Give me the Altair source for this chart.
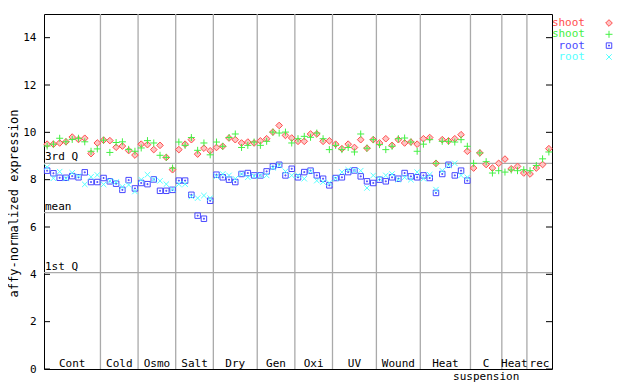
import altair as alt
import pandas as pd

# ---------------- data ----------------
groups = ["Cont", "Cold", "Osmo", "Salt", "Dry", "Gen", "Oxi", "UV", "Wound", "Heat", "C", "Heat", "rec"]
group_sizes = [9, 6, 6, 6, 7, 6, 6, 7, 7, 8, 5, 4, 4]
sub_label_group = 10
sub_label = "suspension"

shoot_red = [
    9.50, 9.50, 9.55, 9.60, 9.80, 9.70, 9.75, 9.10, 9.55,
    9.67, 9.65, 9.37, 9.42, 9.23, 9.04,
    9.50, 9.48, 9.27, 9.45, 8.94, 8.42,
    9.27, 9.50, 9.69, 9.08, 9.33, 9.22,
    9.36, 9.41, 9.76, 9.69, 9.55, 9.59, 9.55,
    9.64, 9.73, 10.01, 10.29, 9.87, 9.76,
    9.62, 9.62, 9.93, 9.93, 9.62, 9.64,
    9.50, 9.31, 9.50, 9.36, 9.69, 9.33, 9.69,
    9.55, 9.73, 9.45, 9.69, 9.55, 9.59, 9.50,
    9.73, 9.78, 8.69, 9.69, 9.64, 9.73, 9.90, 9.20,
    8.49, 9.13, 8.64, 8.49, 8.69,
    8.87, 8.46, 8.56, 8.28,
    8.24, 8.49, 8.64, 9.31,
]
shoot_green = [
    9.42, 9.50, 9.75, 9.60, 9.70, 9.75, 9.60, 9.20, 9.30,
    9.67, 9.15, 9.57, 9.60, 9.28, 9.20,
    9.34, 9.65, 9.55, 9.03, 8.94, 8.49,
    9.59, 9.45, 9.78, 9.24, 9.55, 9.05,
    9.59, 9.41, 9.78, 9.93, 9.36, 9.45, 9.59,
    9.45, 9.62, 10.01, 9.97, 10.01, 9.55,
    9.73, 9.83, 9.79, 9.97, 9.73, 9.27,
    9.45, 9.27, 9.36, 9.17, 9.93, 9.33, 9.69,
    9.48, 9.27, 9.41, 9.73, 9.76, 9.59, 9.20,
    9.50, 9.69, 8.69, 9.62, 9.62, 9.59, 9.69, 9.41,
    8.69, 9.13, 8.76, 8.28, 8.38,
    8.32, 8.41, 8.38, 8.42,
    8.38, 8.60, 8.88, 9.17,
]
root_blue = [
    8.38, 8.27, 8.08, 8.08, 8.15, 8.10, 8.31, 7.90, 7.90,
    8.07, 7.93, 7.83, 7.57, 7.98, 7.63,
    7.86, 7.81, 8.01, 7.53, 7.53, 7.57,
    7.96, 7.96, 7.36, 6.48, 6.35, 7.11,
    8.21, 8.10, 8.00, 7.90, 8.24, 8.28, 8.18,
    8.18, 8.35, 8.56, 8.63, 8.18, 8.46,
    8.10, 8.32, 8.38, 8.18, 8.04, 7.76,
    8.07, 8.10, 8.32, 8.39, 8.14, 7.93, 7.86,
    8.00, 7.93, 8.10, 8.04, 8.28, 8.14, 8.10,
    8.18, 8.07, 7.44, 8.24, 8.63, 8.18, 8.38, 7.96,
]
root_cyan = [
    8.53, 8.06, 8.34, 8.05, 8.29, 8.15, 7.80, 8.12, 8.20,
    7.80, 7.95, 7.90, 7.70, 7.78, 7.50,
    8.00, 8.21, 8.01, 7.95, 7.81, 7.60,
    7.81, 7.81, 7.29, 7.22, 7.33, 7.22,
    8.14, 8.24, 8.18, 8.04, 8.24, 8.10, 8.15,
    8.18, 8.18, 8.50, 8.60, 8.35, 8.18,
    8.18, 8.04, 8.35, 7.96, 7.90, 7.86,
    8.05, 8.32, 8.42, 8.39, 8.38, 7.65, 8.18,
    8.05, 8.18, 8.24, 8.00, 8.10, 8.00, 8.32,
    8.04, 8.21, 7.58, 8.38, 8.60, 8.69, 8.18, 8.10,
]

stat_names = ["3rd Q", "mean", "1st Q"]
stat_values = [8.69, 6.61, 4.07]
y_ticks = [0, 2, 4, 6, 8, 10, 12, 14]

series_keys = ["shoot_a", "shoot_b", "root_a", "root_b"]
legend_labels = ["shoot", "shoot", "root", "root"]
series_colors = ["#ff4d4d", "#44f044", "#4848ff", "#55ffff"]
series_values = [shoot_red, shoot_green, root_blue, root_cyan]

# ---------------- tables ----------------
rows = []
for key, vals in zip(series_keys, series_values):
    for i, v in enumerate(vals):
        rows.append({"pos": i + 0.5, "value": v, "series": key})
df = pd.DataFrame(rows)

n_total = sum(group_sizes)
bounds, centers = [], []
acc = 0
for s in group_sizes:
    centers.append(acc + s / 2)
    acc += s
    bounds.append(acc)
sep_df = pd.DataFrame({"pos": bounds[:-1]})
lab_df = pd.DataFrame({"pos": centers, "name": groups})
sub_df = pd.DataFrame({"pos": [centers[sub_label_group]], "name": [sub_label]})
stat_df = pd.DataFrame({"value": stat_values, "name": stat_names})
tick_df = pd.DataFrame({"value": y_ticks})

FONT = "DejaVu Sans Mono"
GRAY = "#aaaaaa"
W, H = 508, 355

xscale = alt.Scale(domain=[0, n_total], nice=False, zero=False)
yscale = alt.Scale(domain=[0, 15], nice=False, zero=True)
yaxis = alt.Axis(values=y_ticks, ticks=False, domain=False, grid=False,
                 labelFont=FONT, labelFontSize=11, labelColor="black", labelPadding=8,
                 title="affy-normalized expression", titleFont=FONT, titleFontSize=12,
                 titleFontWeight="normal", titleColor="black",
                 titleX=-27, titleY=189, titleBaseline="alphabetic")
x_enc = alt.X("pos:Q", scale=xscale, axis=None)
y_enc = alt.Y("value:Q", scale=yscale, axis=yaxis)

layers = []
layers.append(alt.Chart(sep_df).mark_rule(color=GRAY, strokeWidth=1.3).encode(x=x_enc))
layers.append(alt.Chart(stat_df).mark_rule(color=GRAY, strokeWidth=1.3).encode(y=y_enc))
layers.append(alt.Chart(stat_df).mark_text(align="left", baseline="bottom", dy=-1, font=FONT,
                                           fontSize=11, color="black")
              .encode(x=alt.value(1), y=y_enc, text="name:N"))
layers.append(alt.Chart(tick_df).mark_rule(color="black").encode(
    y=y_enc, x=alt.value(0), x2=alt.value(6)))
layers.append(alt.Chart(tick_df).mark_rule(color="black").encode(
    y=y_enc, x=alt.value(W - 6), x2=alt.value(W)))

shapes = [
    "M0,-1L1,0L0,1L-1,0Z",
    "M-1,0L1,0M0,-1L0,1",
    "M-1,-1L1,-1L1,1L-1,1Z M-0.18,-0.18L0.18,-0.18L0.18,0.18L-0.18,0.18Z",
    "M-1,-1L1,1M1,-1L-1,1",
]
sizes = [44, 49, 30, 30]
fills = ["#ffc4c4", None, None, None]

legend_y = [9, 20.3, 31.6, 43]
for k, (key, shape, size, color, fill) in enumerate(zip(series_keys, shapes, sizes, series_colors, fills)):
    if fill:
        mk = dict(shape=shape, size=size, filled=True, fill=fill, stroke=color, strokeWidth=1, opacity=1)
    else:
        mk = dict(shape=shape, size=size, filled=False, color=color, strokeWidth=1, opacity=1)
    layers.append(alt.Chart(df).transform_filter(alt.datum.series == key)
                  .mark_point(**mk).encode(x=x_enc, y=y_enc))
    leg = pd.DataFrame({"t": [legend_labels[k]]})
    layers.append(alt.Chart(leg).mark_text(align="right", baseline="middle", font=FONT,
                                           fontSize=11, color=color)
                  .encode(x=alt.value(541), y=alt.value(legend_y[k]), text="t:N"))
    layers.append(alt.Chart(leg).mark_point(**mk)
                  .encode(x=alt.value(565), y=alt.value(legend_y[k])))

layers.append(alt.Chart(lab_df).mark_text(align="center", baseline="alphabetic", font=FONT,
                                          fontSize=11, color="black")
              .encode(x=x_enc, y=alt.value(353), text="name:N"))
layers.append(alt.Chart(sub_df).mark_text(align="center", baseline="alphabetic", font=FONT,
                                          fontSize=11, color="black")
              .encode(x=x_enc, y=alt.value(366), text="name:N"))

chart = alt.layer(*layers).properties(
    width=W, height=H,
    autosize=alt.AutoSizeParams(type="none"),
    padding={"left": 36, "top": 6, "right": 80, "bottom": 15},
    background="white",
).configure_view(stroke="black", strokeWidth=1)

chart.save("out.html", embed_options={"renderer": "svg", "actions": False})
